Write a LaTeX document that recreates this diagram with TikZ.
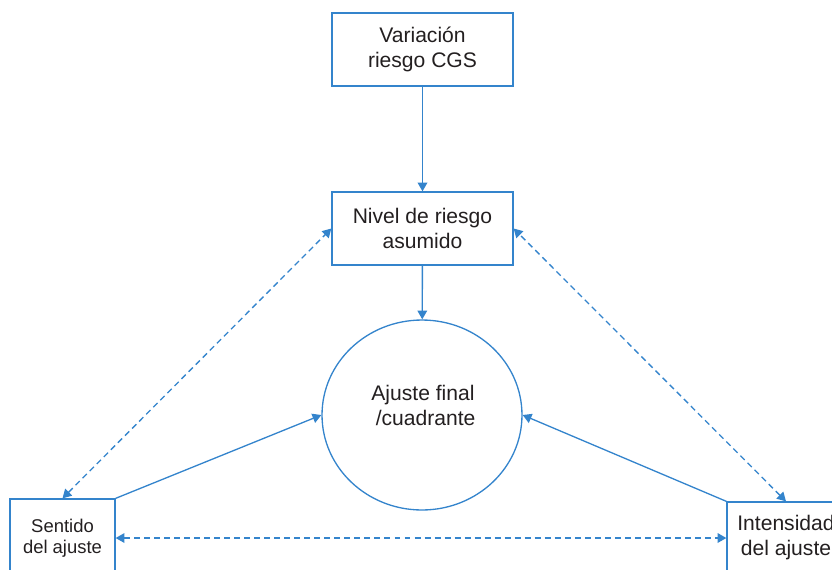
\documentclass[tikz,border=0pt]{standalone}
\usepackage{fontspec}
\setmainfont{Liberation Sans}
\usetikzlibrary{positioning,shapes.geometric,arrows.meta}
\definecolor{flowblue}{RGB}{52,132,204}
\definecolor{inkgray}{RGB}{35,31,32}
\newcommand*{\bigtxt}{\fontsize{12}{14.2}\selectfont}
\newcommand*{\smalltxt}{\fontsize{10.5}{12}\selectfont}

\begin{document}
\begin{tikzpicture}[x=0.02cm,y=-0.02cm,
  box/.style={draw=flowblue,line width=0.75pt,inner sep=0pt,align=center,text=inkgray,font=\bigtxt},
  link/.style={flowblue,line width=0.75pt,-{Triangle[length=5pt,width=5.5pt]}},
  twoway/.style={link,{Triangle[length=5pt,width=5.5pt]}-{Triangle[length=5pt,width=5.5pt]},dash pattern=on 3.4pt off 2.3pt}]
% Page frame, in pixels of the reference
\useasboundingbox (0,0) rectangle (832,569);
\clip (0,0) rectangle (832,569);
% Central column
\node[box,minimum width=3.62cm,minimum height=1.46cm] (variacion) at (422.5,49.5) {Variación\\riesgo CGS};
\node[box,minimum width=3.62cm,minimum height=1.46cm] (nivel) at (422.5,228.5) {Nivel de riesgo\\asumido};
\node[box,ellipse,minimum width=4cm,minimum height=3.8cm] (ajuste) at (422,415) {};
\node[align=center,text=inkgray,font=\bigtxt,inner sep=0pt] (ajustetxt) at (423,405) {Ajuste final\\\hspace*{3pt}/cuadrante};
% Bottom corners
\node[box,font=\smalltxt,minimum width=2.1cm,minimum height=1.56cm] (sentido) at (62.5,538) {Sentido\\del ajuste};
\node[box,minimum width=2.36cm,minimum height=1.44cm] (intensidad) at (786,538) {Intensidad\\del ajuste};
% Solid arrows
\draw[link] (variacion) -- (nivel);
\draw[link] (nivel) -- (ajuste);
\draw[link] (sentido.north east) -- (ajuste.west);
\draw[link] (intensidad.north west) -- (ajuste.east);
% Dashed two-way arrows
\draw[twoway] (sentido.north) -- (nivel.west);
\draw[twoway] (intensidad.north) -- (nivel.east);
\draw[twoway] (sentido) -- (intensidad);
\end{tikzpicture}
\end{document}
